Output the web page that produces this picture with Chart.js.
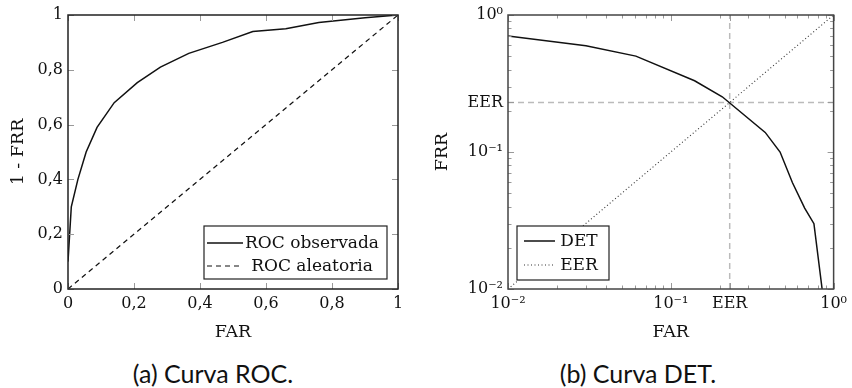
<!DOCTYPE html>
<html>
<head>
<meta charset="utf-8">
<script src="https://cdn.jsdelivr.net/npm/chart.js@4.4.1/dist/chart.umd.min.js"></script>
<style>
body { margin: 0; background: #fff; }
#page { position: relative; width: 852px; height: 388px; overflow: hidden; }
.box { position: absolute; top: 0; }
.cap { position: absolute; top: 358px; font-family: Lato, sans-serif; font-size: 25px; line-height: 30px; color: #111; white-space: nowrap; transform: translateX(-50%); }
</style>
</head>
<body>
<div id="page">
  <div class="box" style="left:0"><canvas id="roc" width="420" height="345"></canvas></div>
  <div class="box" style="left:420px"><canvas id="det" width="432" height="345"></canvas></div>
  <div class="cap" style="left:213px">(a) Curva ROC.</div>
  <div class="cap" style="left:638px">(b) Curva DET.</div>
</div>
<script>
// ROC curve (a)
const rocFar = [0, 0.01, 0.03, 0.055, 0.088, 0.14, 0.21, 0.28, 0.366, 0.468, 0.56, 0.66, 0.76, 0.9, 1];
const rocTpr = [0.1, 0.30, 0.40, 0.50, 0.59, 0.68, 0.753, 0.81, 0.86, 0.90, 0.94, 0.95, 0.973, 0.99, 1];
const randFar = [0, 1];
const randTpr = [0, 1];
const rocTicks = [0, 0.2, 0.4, 0.6, 0.8, 1];
const rocTickLabels = ['0', '0,2', '0,4', '0,6', '0,8', '1'];

// DET curve (b)
const EER = 0.23;
const detFar = [0.01, 0.0301, 0.061, 0.14, 0.207, 0.38, 0.469, 0.559, 0.664, 0.757, 0.85];
const detFrr = [0.702, 0.597, 0.501, 0.331, 0.253, 0.139, 0.1, 0.0596, 0.039, 0.030, 0.01];
const eerFar = [0.01, 1];
const eerFrr = [0.01, 1];
const detTicks = [0.01, 0.1, EER, 1];
const detTickLabels = ['10⁻²', '10⁻¹', 'EER', '10⁰'];

Chart.defaults.font.family = '"DejaVu Serif", serif';
Chart.defaults.color = '#111';

const tickFont = { size: 16 };
const titleFont = { size: 17.5 };

function pts(xs, ys) { return xs.map((x, i) => ({ x: x, y: ys[i] })); }

function logMinor(min, max) {
  const out = [];
  for (let e = Math.floor(Math.log10(min)); e < Math.round(Math.log10(max)); e++) {
    for (let m = 2; m <= 9; m++) out.push(m * Math.pow(10, e));
  }
  return out;
}

const frameTicks = {
  id: 'frameTicks',
  afterDatasetsDraw(chart, args, o) {
    const { ctx, chartArea: a, scales } = chart;
    ctx.save();
    ctx.strokeStyle = o.tickColor;
    ctx.lineWidth = 1;
    const tx = (v, len) => {
      const p = Math.round(scales.x.getPixelForValue(v)) + 0.5;
      ctx.beginPath();
      ctx.moveTo(p, a.bottom); ctx.lineTo(p, a.bottom - len);
      ctx.moveTo(p, a.top); ctx.lineTo(p, a.top + len);
      ctx.stroke();
    };
    const ty = (v, len) => {
      const p = Math.round(scales.y.getPixelForValue(v)) + 0.5;
      ctx.beginPath();
      ctx.moveTo(a.left, p); ctx.lineTo(a.left + len, p);
      ctx.moveTo(a.right, p); ctx.lineTo(a.right - len, p);
      ctx.stroke();
    };
    scales.x.ticks.forEach(t => tx(t.value, o.major));
    scales.y.ticks.forEach(t => ty(t.value, o.major));
    (o.minorX || []).forEach(v => tx(v, o.minor));
    (o.minorY || []).forEach(v => ty(v, o.minor));
    ctx.strokeStyle = o.frameColor;
    ctx.lineWidth = 1.5;
    ctx.strokeRect(a.left, a.top, a.width, a.height);
    ctx.restore();
  }
};

const boxLegend = {
  id: 'boxLegend',
  afterDraw(chart, args, o) {
    const { ctx, chartArea: a } = chart;
    const x = o.corner === 'right' ? a.right - o.dx - o.w : a.left + o.dx;
    const y = a.bottom - o.dy - o.h;
    ctx.save();
    ctx.fillStyle = '#fff';
    ctx.fillRect(x, y, o.w, o.h);
    ctx.strokeStyle = '#222';
    ctx.lineWidth = 1.2;
    ctx.strokeRect(x, y, o.w, o.h);
    ctx.font = '17px "DejaVu Serif", serif';
    ctx.textAlign = 'center';
    ctx.textBaseline = 'middle';
    ctx.fillStyle = '#111';
    chart.data.datasets.filter(d => !d.hideInLegend).forEach((d, i) => {
      const ry = y + o.rows[i];
      ctx.strokeStyle = d.borderColor;
      ctx.lineWidth = d.borderWidth;
      ctx.setLineDash(d.borderDash || []);
      ctx.beginPath();
      ctx.moveTo(x + o.s0, ry); ctx.lineTo(x + o.s1, ry);
      ctx.stroke();
      ctx.setLineDash([]);
      ctx.fillText(d.label, x + o.tx, ry + 1);
    });
    ctx.restore();
  }
};

function axis(type, min, max, ticks, labels, title, titlePad, size, isX) {
  return {
    type: type, min: min, max: max,
    afterBuildTicks: s => { s.ticks = ticks.map(v => ({ value: v })); },
    afterFit: s => { if (isX) s.height = size; else s.width = size; },
    ticks: { callback: (v, i) => labels[i], font: tickFont, color: '#111', padding: isX ? 5 : 5, autoSkip: false, maxRotation: 0 },
    grid: { display: false, drawTicks: false },
    border: { display: false },
    title: { display: true, text: title, font: titleFont, color: '#111', padding: titlePad }
  };
}

new Chart(document.getElementById('roc'), {
  type: 'scatter',
  data: {
    datasets: [{
      label: 'ROC observada',
      data: pts(rocFar, rocTpr),
      showLine: true, pointRadius: 0, borderColor: '#111', borderWidth: 1.5
    }, {
      label: 'ROC aleatoria',
      data: pts(randFar, randTpr),
      showLine: true, pointRadius: 0, borderColor: '#111', borderWidth: 1.2, borderDash: [5, 4]
    }]
  },
  options: {
    responsive: false,
    animation: false,
    events: [],
    layout: { padding: { left: 0, top: 15, right: 22, bottom: 0 } },
    scales: {
      x: axis('linear', 0, 1, rocTicks, rocTickLabels, 'FAR', { top: 0, bottom: 2 }, 56, true),
      y: axis('linear', 0, 1, rocTicks, rocTickLabels, '1 - FRR', { top: 8, bottom: 0 }, 68, false)
    },
    plugins: {
      legend: { display: false },
      tooltip: { enabled: false },
      frameTicks: { tickColor: '#999', frameColor: '#222', major: 6, minor: 3 },
      boxLegend: { corner: 'right', dx: 11, dy: 10, w: 183, h: 53, s0: 3, s1: 39, tx: 108, rows: [17, 40] }
    }
  },
  plugins: [frameTicks, boxLegend]
});

new Chart(document.getElementById('det'), {
  type: 'scatter',
  data: {
    datasets: [{
      label: 'DET',
      data: pts(detFar, detFrr),
      showLine: true, pointRadius: 0, borderColor: '#111', borderWidth: 1.5
    }, {
      label: 'EER',
      data: pts(eerFar, eerFrr),
      showLine: true, pointRadius: 0, borderColor: '#333', borderWidth: 1.1, borderDash: [1, 2.5]
    }, {
      label: '',
      hideInLegend: true,
      data: [{ x: EER, y: 0.01 }, { x: EER, y: 1 }],
      showLine: true, pointRadius: 0, borderColor: '#bbb', borderWidth: 1.5, borderDash: [6, 4]
    }, {
      label: '',
      hideInLegend: true,
      data: [{ x: 0.01, y: EER }, { x: 1, y: EER }],
      showLine: true, pointRadius: 0, borderColor: '#bbb', borderWidth: 1.5, borderDash: [6, 4]
    }]
  },
  options: {
    responsive: false,
    animation: false,
    events: [],
    layout: { padding: { left: 0, top: 15, right: 14, bottom: 0 } },
    scales: {
      x: axis('logarithmic', 0.01, 1, detTicks, detTickLabels, 'FAR', { top: 0, bottom: 2 }, 56, true),
      y: axis('logarithmic', 0.01, 1, detTicks, detTickLabels, 'FRR', { top: 12, bottom: 0 }, 88, false)
    },
    plugins: {
      legend: { display: false },
      tooltip: { enabled: false },
      frameTicks: { tickColor: '#999', frameColor: '#444', major: 6, minor: 3.5, minorX: logMinor(0.01, 1), minorY: logMinor(0.01, 1) },
      boxLegend: { corner: 'left', dx: 9, dy: 9, w: 92, h: 54, s0: 7, s1: 38, tx: 62, rows: [15, 39] }
    }
  },
  plugins: [frameTicks, boxLegend]
});
</script>
</body>
</html>
